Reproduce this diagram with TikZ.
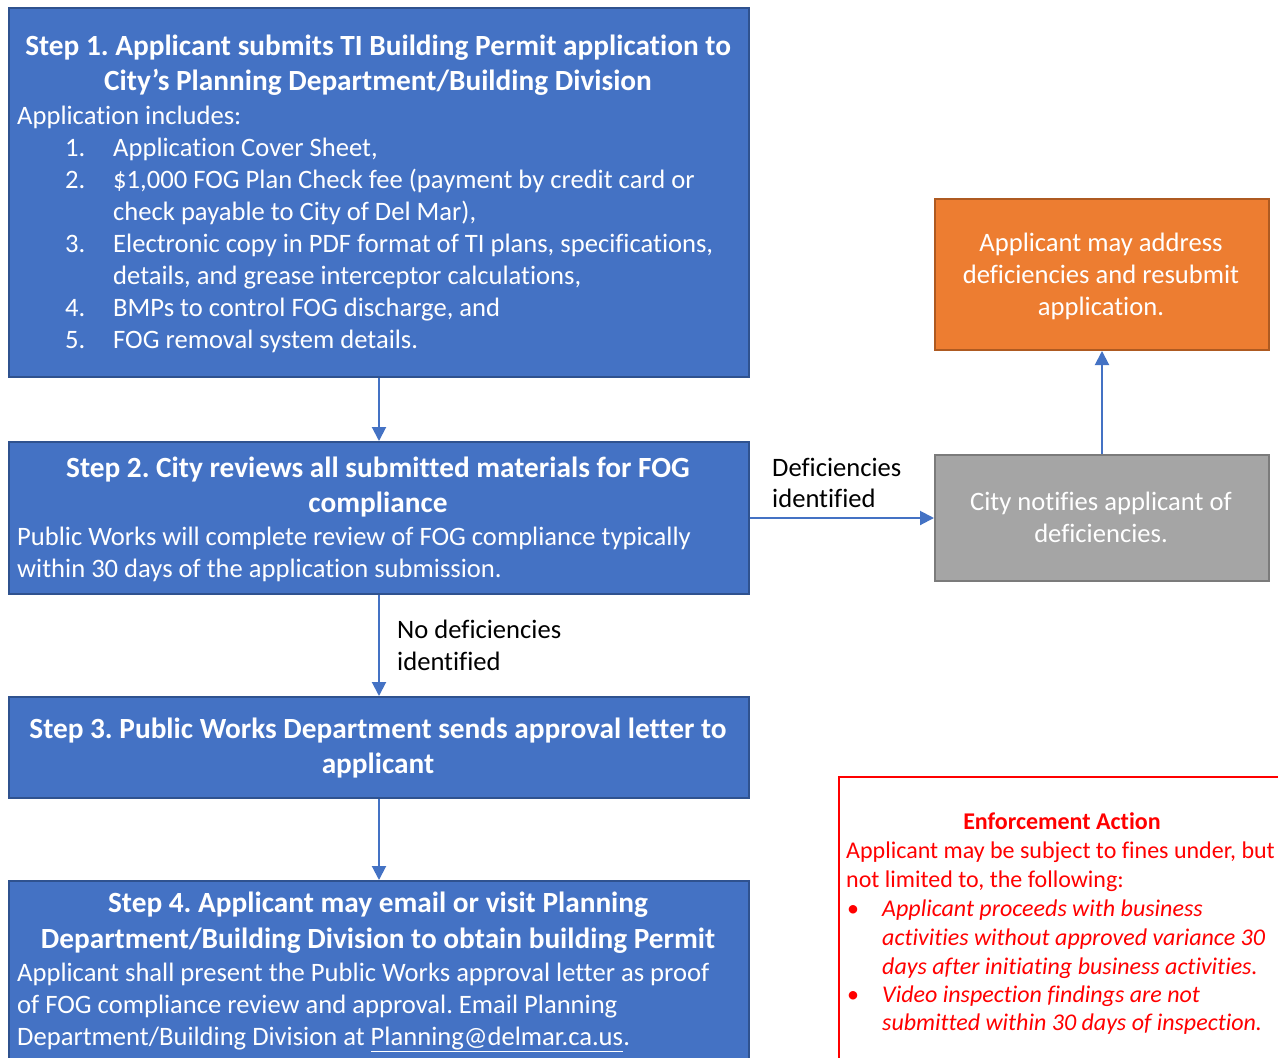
\documentclass[tikz,border=0pt]{standalone}
\usepackage{fontspec}
\setmainfont{Carlito}[Ligatures=NoCommon]
\usetikzlibrary{arrows.meta}
\definecolor{bfill}{HTML}{4472C4}
\definecolor{bline}{HTML}{2F528F}
\definecolor{ofill}{HTML}{ED7D31}
\definecolor{oline}{HTML}{AE5A21}
\definecolor{gfill}{HTML}{A5A5A5}
\definecolor{gline}{HTML}{7B7B7B}
\definecolor{ared}{HTML}{FF0000}
\frenchspacing
\begin{document}
\frenchspacing
\begin{tikzpicture}[x=1pt,y=-1pt,
  box/.style={draw, line width=2pt, inner sep=0pt, anchor=north west},
  bluebox/.style={box, draw=bline, fill=bfill},
  orangebox/.style={box, draw=oline, fill=ofill},
  greybox/.style={box, draw=gline, fill=gfill},
  redbox/.style={box, draw=ared, line width=1.5pt, fill=white},
  arr/.style={draw=bfill, line width=2pt, -{Triangle[length=14pt,width=14pt]}},
  tb/.style={font=\fontsize{29.3}{35}\selectfont\bfseries, text=white, anchor=base, inner sep=0pt},
  tl/.style={font=\fontsize{26.6}{32}\selectfont, text=white, anchor=base west, inner sep=0pt},
  tc/.style={font=\fontsize{26.6}{32}\selectfont, text=white, anchor=base, inner sep=0pt},
  lab/.style={font=\fontsize{26.6}{32}\selectfont, text=black, anchor=base west, inner sep=0pt},
  rb/.style={font=\fontsize{24}{29}\selectfont\bfseries, text=ared, anchor=base, inner sep=0pt},
  rl/.style={font=\fontsize{24}{29}\selectfont, text=ared, anchor=base west, inner sep=0pt},
  ri/.style={font=\fontsize{24}{29}\selectfont\itshape, text=ared, anchor=base west, inner sep=0pt}
]
\useasboundingbox (0,0) rectangle (1278,1058);
\clip (0,0) rectangle (1278,1058);
\fill[white] (0,0) rectangle (1278,1058);

% boxes
\node[bluebox, minimum width=740pt, minimum height=369pt] (s1) at (8,7) {};
\node[bluebox, minimum width=740pt, minimum height=152pt] (s2) at (8,441) {};
\node[bluebox, minimum width=740pt, minimum height=101pt] (s3) at (8,696) {};
\node[bluebox, minimum width=740pt, minimum height=182pt] (s4) at (8,880) {};
\node[orangebox, minimum width=334pt, minimum height=151pt] (res) at (934,198) {};
\node[greybox, minimum width=334pt, minimum height=126pt] (note) at (934,454) {};
\node[redbox, minimum width=470pt, minimum height=310pt] (enf) at (838,776) {};

% arrows
\draw[arr] (s1.south) -- (s2.north);
\draw[arr] (s2.south) -- (s3.north);
\draw[arr] (s3.south) -- (s4.north);
\draw[arr] (s2.east) -- (note.west);
\draw[arr] (note.north) -- (res.south);

% step 1 text
\node[tb] (s1t1) at (378,55) {Step 1. Applicant submits TI Building Permit application to};
\node[tb] (s1t2) at (378,90) {City’s Planning Department/Building Division};
\node[tl] (s1b0) at (17,124) {Application includes:};
\node[tl] (s1n1) at (65,156) {1.};
\node[tl] (s1i1) at (113,156) {Application Cover Sheet,};
\node[tl] (s1n2) at (65,188) {2.};
\node[tl] (s1i2) at (113,188) {\$1,000 FOG Plan Check fee (payment by credit card or};
\node[tl] (s1i2b) at (113,220) {check payable to City of Del Mar),};
\node[tl] (s1n3) at (65,252) {3.};
\node[tl] (s1i3) at (113,252) {Electronic copy in PDF format of TI plans, specifications,};
\node[tl] (s1i3b) at (113,284) {details, and grease interceptor calculations,};
\node[tl] (s1n4) at (65,316) {4.};
\node[tl] (s1i4) at (113,316) {BMPs to control FOG discharge, and};
\node[tl] (s1n5) at (65,348) {5.};
\node[tl] (s1i5) at (113,348) {FOG removal system details.};

% step 2 text
\node[tb] (s2t1) at (378,477) {Step 2. City reviews all submitted materials for FOG};
\node[tb] (s2t2) at (378,512) {compliance};
\node[tl] (s2b1) at (17,545) {Public Works will complete review of FOG compliance typically};
\node[tl] (s2b2) at (17,577) {within 30 days of the application submission.};

% step 3 text
\node[tb] (s3t1) at (378,738) {Step 3. Public Works Department sends approval letter to};
\node[tb] (s3t2) at (378,773) {applicant};

% step 4 text
\node[tb] (s4t1) at (378,912) {Step 4. Applicant may email or visit Planning};
\node[tb] (s4t2) at (378,948) {Department/Building Division to obtain building Permit};
\node[tl] (s4b1) at (17,981) {Applicant shall present the Public Works approval letter as proof};
\node[tl] (s4b2) at (17,1013) {of FOG compliance review and approval. Email Planning};
\node[tl] (s4b3) at (17,1045) {Department/Building Division at \underline{Planning@delmar.ca.us}.};

% orange / grey text
\node[tc] (r1) at (1101,251) {Applicant may address};
\node[tc] (r2) at (1101,283) {deficiencies and resubmit};
\node[tc] (r3) at (1101,315) {application.};
\node[tc] (n1) at (1101,510) {City notifies applicant of};
\node[tc] (n2) at (1101,542) {deficiencies.};

% connector labels
\node[lab] (d1) at (772,476) {Deficiencies};
\node[lab] (d2) at (772,507) {identified};
\node[lab] (nd1) at (397,638) {No deficiencies};
\node[lab] (nd2) at (397,670) {identified};

% enforcement text
\node[rb] (e0) at (1062,829) {Enforcement Action};
\node[rl] (e1) at (846,858) {Applicant may be subject to fines under, but};
\node[rl] (e2) at (846,887) {not limited to, the following:};
\node[rl] (eb1) at (847,916) {•};
\node[ri] (e3) at (882,916) {Applicant proceeds with business};
\node[ri] (e4) at (882,945) {activities without approved variance 30};
\node[ri] (e5) at (882,974) {days after initiating business activities.};
\node[rl] (eb2) at (847,1002) {•};
\node[ri] (e6) at (882,1002) {Video inspection findings are not};
\node[ri] (e7) at (882,1030) {submitted within 30 days of inspection.};
\end{tikzpicture}
\end{document}
